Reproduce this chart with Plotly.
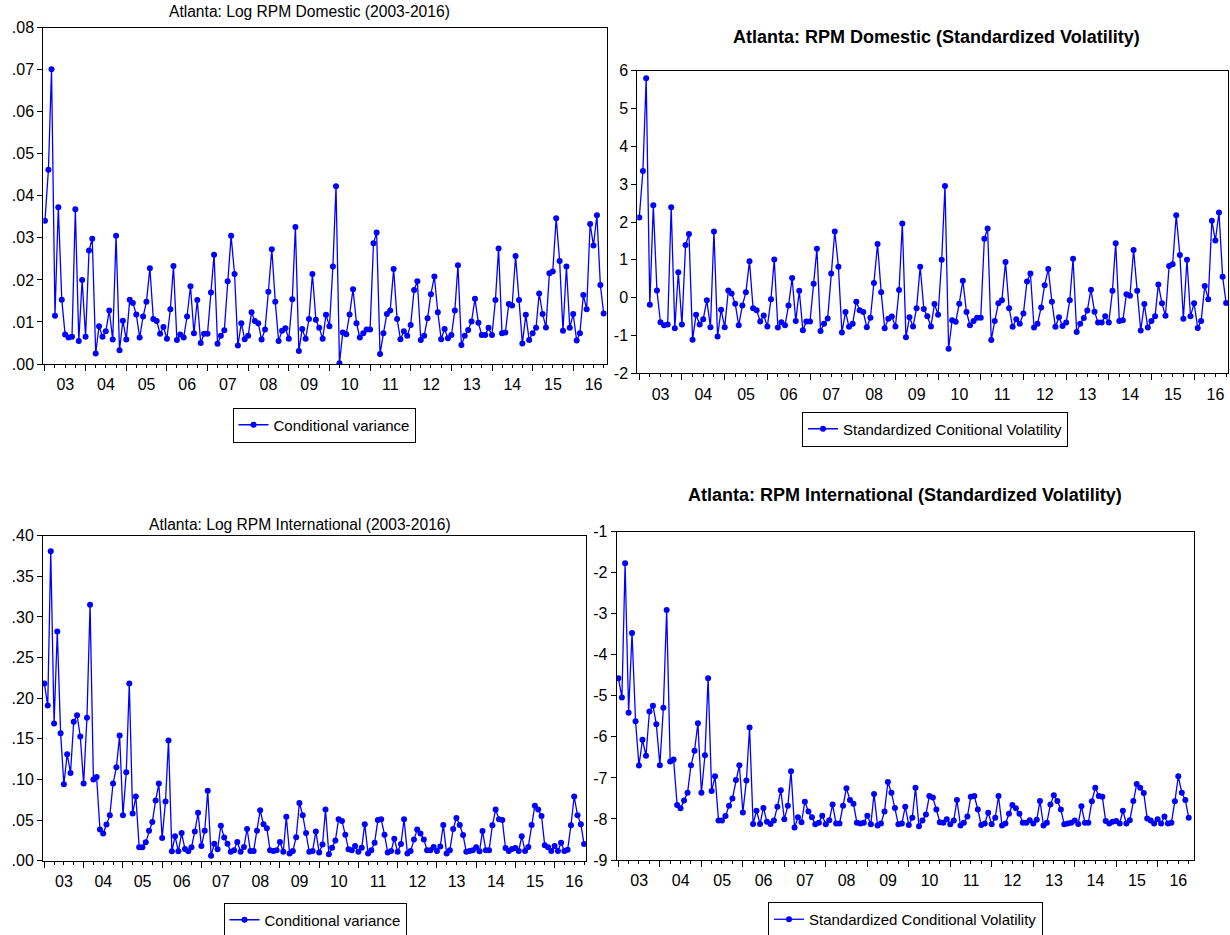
import pandas as pd
import plotly.graph_objects as go

# ---------------- data (monthly, Jan 2003 - Oct 2016) ----------------
start_month = "2003-01-01"
n_obs = 166

dom_cond_var = [
    0.0341, 0.0462, 0.0701, 0.0115, 0.0373, 0.0153, 0.0070, 0.0063, 0.0065, 0.0368,
    0.0055, 0.0200, 0.0065, 0.0270, 0.0298, 0.0025, 0.0090, 0.0065, 0.0078, 0.0127,
    0.0058, 0.0305, 0.0033, 0.0103, 0.0058, 0.0153, 0.0145, 0.0118, 0.0063, 0.0113,
    0.0148, 0.0228, 0.0107, 0.0102, 0.0072, 0.0088, 0.0060, 0.0130, 0.0233, 0.0057,
    0.0070, 0.0063, 0.0113, 0.0185, 0.0073, 0.0152, 0.0050, 0.0072, 0.0072, 0.0170,
    0.0260, 0.0048, 0.0067, 0.0080, 0.0197, 0.0305, 0.0214, 0.0044, 0.0097, 0.0059,
    0.0067, 0.0123, 0.0102, 0.0097, 0.0058, 0.0082, 0.0172, 0.0273, 0.0148, 0.0055,
    0.0079, 0.0085, 0.0060, 0.0154, 0.0326, 0.0031, 0.0083, 0.0060, 0.0107, 0.0214,
    0.0105, 0.0086, 0.0060, 0.0117, 0.0090, 0.0232, 0.0423, 0.0002, 0.0075, 0.0071,
    0.0118, 0.0178, 0.0097, 0.0063, 0.0073, 0.0082, 0.0082, 0.0287, 0.0313, 0.0024,
    0.0073, 0.0119, 0.0127, 0.0226, 0.0107, 0.0059, 0.0078, 0.0067, 0.0093, 0.0176,
    0.0197, 0.0057, 0.0067, 0.0109, 0.0166, 0.0208, 0.0123, 0.0059, 0.0083, 0.0061,
    0.0069, 0.0127, 0.0235, 0.0045, 0.0067, 0.0081, 0.0101, 0.0155, 0.0098, 0.0069,
    0.0069, 0.0086, 0.0069, 0.0152, 0.0275, 0.0073, 0.0075, 0.0143, 0.0139, 0.0257,
    0.0152, 0.0049, 0.0117, 0.0057, 0.0073, 0.0086, 0.0168, 0.0119, 0.0087, 0.0216,
    0.0220, 0.0347, 0.0245, 0.0079, 0.0232, 0.0086, 0.0119, 0.0056, 0.0073, 0.0164,
    0.0130, 0.0333, 0.0282, 0.0354, 0.0188, 0.0120,
]

dom_std_vol = [
    2.12, 3.35, 5.80, -0.19, 2.44, 0.19, -0.65, -0.73, -0.71, 2.39,
    -0.81, 0.67, -0.71, 1.39, 1.68, -1.11, -0.45, -0.71, -0.57, -0.07,
    -0.78, 1.75, -1.03, -0.32, -0.78, 0.19, 0.11, -0.16, -0.73, -0.21,
    0.14, 0.96, -0.28, -0.33, -0.63, -0.47, -0.76, -0.04, 1.01, -0.79,
    -0.65, -0.73, -0.21, 0.52, -0.62, 0.18, -0.86, -0.63, -0.63, 0.37,
    1.29, -0.88, -0.69, -0.55, 0.64, 1.75, 0.82, -0.92, -0.38, -0.77,
    -0.69, -0.11, -0.33, -0.38, -0.78, -0.53, 0.39, 1.42, 0.14, -0.81,
    -0.56, -0.50, -0.76, 0.20, 1.96, -1.05, -0.52, -0.76, -0.28, 0.82,
    -0.30, -0.49, -0.76, -0.17, -0.45, 1.00, 2.95, -1.35, -0.60, -0.64,
    -0.16, 0.45, -0.38, -0.73, -0.62, -0.53, -0.53, 1.56, 1.83, -1.12,
    -0.62, -0.15, -0.07, 0.94, -0.28, -0.77, -0.57, -0.69, -0.42, 0.43,
    0.64, -0.79, -0.69, -0.26, 0.33, 0.76, -0.11, -0.77, -0.52, -0.75,
    -0.66, -0.07, 1.03, -0.91, -0.69, -0.54, -0.34, 0.21, -0.37, -0.66,
    -0.66, -0.49, -0.66, 0.18, 1.44, -0.62, -0.60, 0.09, 0.05, 1.26,
    0.18, -0.87, -0.17, -0.79, -0.62, -0.49, 0.35, -0.15, -0.48, 0.84,
    0.88, 2.18, 1.13, -0.56, 1.00, -0.49, -0.15, -0.80, -0.62, 0.31,
    -0.04, 2.03, 1.51, 2.25, 0.55, -0.14,
]

int_cond_var = [
    0.218, 0.191, 0.381, 0.169, 0.282, 0.157, 0.094, 0.131, 0.108, 0.171,
    0.179, 0.153, 0.095, 0.176, 0.315, 0.100, 0.103, 0.0385, 0.0336, 0.0447,
    0.0558, 0.095, 0.115, 0.154, 0.056, 0.109, 0.218, 0.058, 0.079, 0.0164,
    0.0164, 0.0226, 0.037, 0.0476, 0.074, 0.095, 0.028, 0.073, 0.148, 0.0115,
    0.030, 0.0115, 0.034, 0.0144, 0.0115, 0.0164, 0.036, 0.059, 0.018, 0.037,
    0.086, 0.006, 0.021, 0.014, 0.043, 0.0287, 0.021, 0.011, 0.013, 0.023,
    0.011, 0.017, 0.039, 0.012, 0.012, 0.037, 0.062, 0.045, 0.040, 0.013,
    0.012, 0.013, 0.023, 0.011, 0.054, 0.009, 0.012, 0.029, 0.071, 0.056,
    0.034, 0.011, 0.012, 0.036, 0.010, 0.020, 0.063, 0.008, 0.016, 0.025,
    0.051, 0.049, 0.032, 0.014, 0.013, 0.018, 0.011, 0.016, 0.045, 0.009,
    0.013, 0.022, 0.050, 0.051, 0.032, 0.010, 0.012, 0.027, 0.011, 0.0205,
    0.051, 0.009, 0.012, 0.026, 0.0385, 0.0336, 0.026, 0.013, 0.013, 0.017,
    0.012, 0.0176, 0.044, 0.009, 0.013, 0.039, 0.0525, 0.044, 0.0316, 0.011,
    0.012, 0.013, 0.0164, 0.0115, 0.0365, 0.013, 0.013, 0.0435, 0.063, 0.051,
    0.050, 0.0156, 0.012, 0.0144, 0.0156, 0.012, 0.030, 0.012, 0.017, 0.044,
    0.0677, 0.063, 0.055, 0.019, 0.0164, 0.012, 0.018, 0.012, 0.022, 0.012,
    0.0135, 0.0435, 0.079, 0.056, 0.045, 0.0205,
]

int_std_vol = [
    -4.57, -5.04, -1.77, -5.41, -3.47, -5.62, -6.70, -6.07, -6.46, -5.38,
    -5.24, -5.69, -6.69, -5.29, -2.91, -6.60, -6.55, -7.66, -7.74, -7.55,
    -7.36, -6.69, -6.34, -5.67, -7.36, -6.45, -4.57, -7.32, -6.96, -8.04,
    -8.04, -7.93, -7.68, -7.50, -7.05, -6.69, -7.84, -7.06, -5.77, -8.12,
    -7.80, -8.12, -7.73, -8.07, -8.12, -8.04, -7.70, -7.30, -8.01, -7.68,
    -6.84, -8.21, -7.96, -8.08, -7.58, -7.82, -7.96, -8.13, -8.09, -7.92,
    -8.13, -8.03, -7.65, -8.11, -8.11, -7.68, -7.25, -7.54, -7.63, -8.09,
    -8.11, -8.09, -7.92, -8.13, -7.39, -8.16, -8.11, -7.82, -7.10, -7.36,
    -7.73, -8.13, -8.11, -7.70, -8.15, -7.97, -7.24, -8.18, -8.04, -7.89,
    -7.44, -7.48, -7.77, -8.08, -8.09, -8.01, -8.13, -8.04, -7.54, -8.16,
    -8.09, -7.94, -7.46, -7.44, -7.77, -8.15, -8.11, -7.85, -8.13, -7.97,
    -7.44, -8.16, -8.11, -7.87, -7.66, -7.74, -7.87, -8.09, -8.09, -8.03,
    -8.11, -8.02, -7.56, -8.16, -8.09, -7.65, -7.42, -7.56, -7.77, -8.13,
    -8.11, -8.09, -8.04, -8.12, -7.69, -8.09, -8.09, -7.57, -7.24, -7.44,
    -7.46, -8.05, -8.11, -8.07, -8.05, -8.11, -7.80, -8.11, -8.03, -7.56,
    -7.15, -7.24, -7.37, -7.99, -8.04, -8.11, -8.01, -8.11, -7.94, -8.11,
    -8.09, -7.57, -6.96, -7.36, -7.54, -7.97,
]

# tick labels
p1_tickvals = [0.00, 0.01, 0.02, 0.03, 0.04, 0.05, 0.06, 0.07, 0.08]
p1_ticktext = [".00", ".01", ".02", ".03", ".04", ".05", ".06", ".07", ".08"]
p2_tickvals = [-2, -1, 0, 1, 2, 3, 4, 5, 6]
p2_ticktext = ["-2", "-1", "0", "1", "2", "3", "4", "5", "6"]
p3_tickvals = [0.00, 0.05, 0.10, 0.15, 0.20, 0.25, 0.30, 0.35, 0.40]
p3_ticktext = [".00", ".05", ".10", ".15", ".20", ".25", ".30", ".35", ".40"]
p4_tickvals = [-9, -8, -7, -6, -5, -4, -3, -2, -1]
p4_ticktext = ["-9", "-8", "-7", "-6", "-5", "-4", "-3", "-2", "-1"]

titles = [
    "Atlanta: Log RPM Domestic (2003-2016)",
    "<b>Atlanta: RPM Domestic (Standardized Volatility)</b>",
    "Atlanta: Log RPM International (2003-2016)",
    "<b>Atlanta: RPM International (Standardized Volatility)</b>",
]
legend_names = [
    "Conditional variance",
    "Standardized Conitional Volatility",
    "Conditional variance",
    "Standardized Conditional Volatility",
]

# ---------------- figure ----------------
W, H = 1230, 935
dates = pd.date_range(start_month, periods=n_obs, freq="MS")

FONT = "Liberation Sans, Arial, sans-serif"
BLUE = "#0000ff"

def px_x(p):
    return p / W

def px_y(p):
    return 1 - p / H

# panel plot-area boxes in pixels: (left, right, top, bottom)
boxes = [
    (43.3, 606.7, 27.7, 364.0),
    (637.3, 1228.0, 70.7, 373.3),
    (43.0, 586.0, 535.7, 860.7),
    (616.7, 1194.3, 531.7, 860.0),
]
xranges = [
    ["2002-12-17", "2016-10-28"],
    ["2002-12-15", "2016-10-17"],
    ["2002-12-19", "2016-10-19"],
    ["2002-12-17", "2016-11-19"],
]
yranges = [[0, 0.08], [-2, 6], [0, 0.40], [-9, -1]]
ytick_sets = [
    (p1_tickvals, p1_ticktext),
    (p2_tickvals, p2_ticktext),
    (p3_tickvals, p3_ticktext),
    (p4_tickvals, p4_ticktext),
]
series = [dom_cond_var, dom_std_vol, int_cond_var, int_std_vol]

title_pos = [(309, 12, 15.6), (936, 37, 18), (300, 524, 15.6), (905, 495, 18)]
legend_pos = [(324, 425), (935, 429), (315, 920), (905.5, 919.5)]

fig = go.Figure()
layout = dict(
    width=W, height=H,
    margin=dict(l=0, r=0, t=0, b=0, autoexpand=False),
    paper_bgcolor="white", plot_bgcolor="white",
    font=dict(family=FONT, size=15, color="black"),
    annotations=[],
)

for k in range(4):
    sfx = "" if k == 0 else str(k + 1)
    leg = "legend" if k == 0 else f"legend{k + 1}"
    fig.add_trace(go.Scatter(
        x=dates, y=series[k], mode="lines+markers", name=legend_names[k],
        line=dict(color=BLUE, width=1.3),
        marker=dict(color=BLUE, size=6),
        xaxis="x" + sfx, yaxis="y" + sfx, legend=leg, showlegend=True,
    ))
    l, r, t, b = boxes[k]
    layout["xaxis" + sfx] = dict(
        domain=[px_x(l), px_x(r)], anchor="y" + sfx, type="date",
        range=xranges[k], dtick="M12", tick0="2003-01-01", tickformat="%y",
        ticklabelmode="period", ticks="outside", ticklen=6, tickwidth=1,
        tickcolor="black", showgrid=False, zeroline=False, automargin=False,
        showline=True, linecolor="black", linewidth=1, mirror=True,
        tickfont=dict(family=FONT, size=16, color="black"),
        minor=dict(dtick="M3", ticks="outside", ticklen=3, tickcolor="black",
                   showgrid=False),
    )
    tv, tt = ytick_sets[k]
    layout["yaxis" + sfx] = dict(
        domain=[px_y(b), px_y(t)], anchor="x" + sfx, range=yranges[k],
        tickvals=tv, ticktext=tt, ticks="outside", ticklen=5, tickwidth=1,
        tickcolor="black", showgrid=False, zeroline=False, automargin=False,
        showline=True, linecolor="black", linewidth=1, mirror=True,
        tickfont=dict(family=FONT, size=16, color="black"),
    )
    tx, ty, ts = title_pos[k]
    layout["annotations"].append(dict(
        text=titles[k], x=px_x(tx), y=px_y(ty), xref="paper", yref="paper",
        xanchor="center", yanchor="middle", showarrow=False,
        font=dict(family=FONT, size=ts, color="black"),
    ))
    lx, ly = legend_pos[k]
    layout[leg] = dict(
        x=px_x(lx), y=px_y(ly), xanchor="center", yanchor="middle",
        bordercolor="black", borderwidth=1, bgcolor="white",
        font=dict(family=FONT, size=15, color="black"),
        itemwidth=30,
    )

fig.update_layout(**layout)
fig.write_html(
    "out.html",
    config={"displayModeBar": False},
    post_script="document.body.style.margin='0px';document.body.style.overflow='hidden';",
)
